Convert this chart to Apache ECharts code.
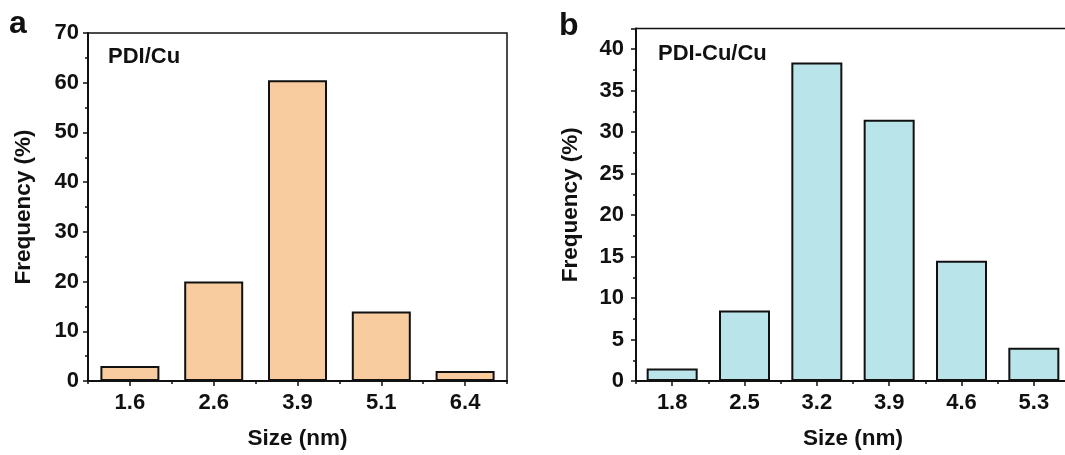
<!DOCTYPE html>
<html>
<head>
<meta charset="utf-8">
<script src="https://cdn.jsdelivr.net/npm/echarts@6/dist/echarts.min.js"></script>
<style>
html,body{margin:0;padding:0;background:#fff;overflow:hidden;width:1065px;height:455px;}
#chart{width:1080px;height:455px;}
</style>
</head>
<body>
<div id="chart"></div>
<script>
// Panel a data
const catsA = ['1.6', '2.6', '3.9', '5.1', '6.4'];
const valsA = [3, 20, 60.5, 14, 2];
const labelA = 'PDI/Cu';
// Panel b data
const catsB = ['1.8', '2.5', '3.2', '3.9', '4.6', '5.3'];
const valsB = [1.5, 8.5, 38.4, 31.5, 14.5, 4];
const labelB = 'PDI-Cu/Cu';

const FONT = '"Liberation Sans", Arial, sans-serif';
const INK = '#111';

function mainX(gi, cats) {
  return {
    type: 'category', gridIndex: gi, data: cats, position: 'bottom',
    name: 'Size (nm)', nameLocation: 'middle', nameGap: 46,
    nameTextStyle: {fontFamily: FONT, fontWeight: 'bold', fontSize: 22.5, color: INK},
    axisLine: {show: true, lineStyle: {color: INK, width: 2}},
    axisTick: {show: true, alignWithLabel: true, length: 5, lineStyle: {color: INK, width: 1.5}},
    axisLabel: {fontFamily: FONT, fontWeight: 'bold', fontSize: 22, color: INK, margin: 11},
    splitLine: {show: false}
  };
}
function minorX(gi, cats) {
  return {
    type: 'category', gridIndex: gi, data: cats, position: 'bottom',
    axisLine: {show: false},
    axisTick: {show: true, alignWithLabel: false, length: 3, lineStyle: {color: INK, width: 1.5}},
    axisLabel: {show: false},
    splitLine: {show: false}
  };
}
function yAx(gi, max, interval, gap, margin) {
  return {
    type: 'value', gridIndex: gi, min: 0, max: max, interval: interval,
    name: 'Frequency (%)', nameLocation: 'middle', nameGap: gap,
    nameTextStyle: {fontFamily: FONT, fontWeight: 'bold', fontSize: 22.5, color: INK},
    axisLine: {show: true, lineStyle: {color: INK, width: 2}},
    axisTick: {show: true, length: 5, lineStyle: {color: INK, width: 1.5}},
    minorTick: {show: true, splitNumber: 2, length: 3, lineStyle: {color: INK, width: 1.5}},
    axisLabel: {fontFamily: FONT, fontWeight: 'bold', fontSize: 22, color: INK, margin: margin, showMaxLabel: max % interval === 0},
    splitLine: {show: false}
  };
}

const chart = echarts.init(document.getElementById('chart'), null, {renderer: 'canvas'});
chart.setOption({
  backgroundColor: '#fff',
  animation: false,
  grid: [
    {left: 88, top: 33, width: 419, height: 348, show: true, borderColor: INK, borderWidth: 1.5, containLabel: false},
    {left: 636, top: 28.5, width: 434, height: 352.5, show: true, borderColor: INK, borderWidth: 1.5, containLabel: false}
  ],
  xAxis: [mainX(0, catsA), minorX(0, catsA), mainX(1, catsB), minorX(1, catsB)],
  yAxis: [yAx(0, 70, 10, 53, 9), yAx(1, 42.5, 5, 54, 12)],
  series: [
    {type: 'bar', xAxisIndex: 0, yAxisIndex: 0, data: valsA, barWidth: 59,
     itemStyle: {color: '#F9CCA0', borderColor: INK, borderWidth: 2}},
    {type: 'bar', xAxisIndex: 2, yAxisIndex: 1, data: valsB, barWidth: 51,
     itemStyle: {color: '#B8E4EA', borderColor: INK, borderWidth: 2}}
  ],
  graphic: [
    {type: 'text', left: 9, top: 8, style: {text: 'a', fontFamily: FONT, fontWeight: 'bold', fontSize: 32, fill: INK}},
    {type: 'text', left: 559, top: 10, style: {text: 'b', fontFamily: FONT, fontWeight: 'bold', fontSize: 32, fill: INK}},
    {type: 'text', left: 108, top: 46, style: {text: labelA, fontFamily: FONT, fontWeight: 'bold', fontSize: 22, fill: INK}},
    {type: 'text', left: 658, top: 43, style: {text: labelB, fontFamily: FONT, fontWeight: 'bold', fontSize: 22, fill: INK}}
  ]
});
</script>
</body>
</html>
